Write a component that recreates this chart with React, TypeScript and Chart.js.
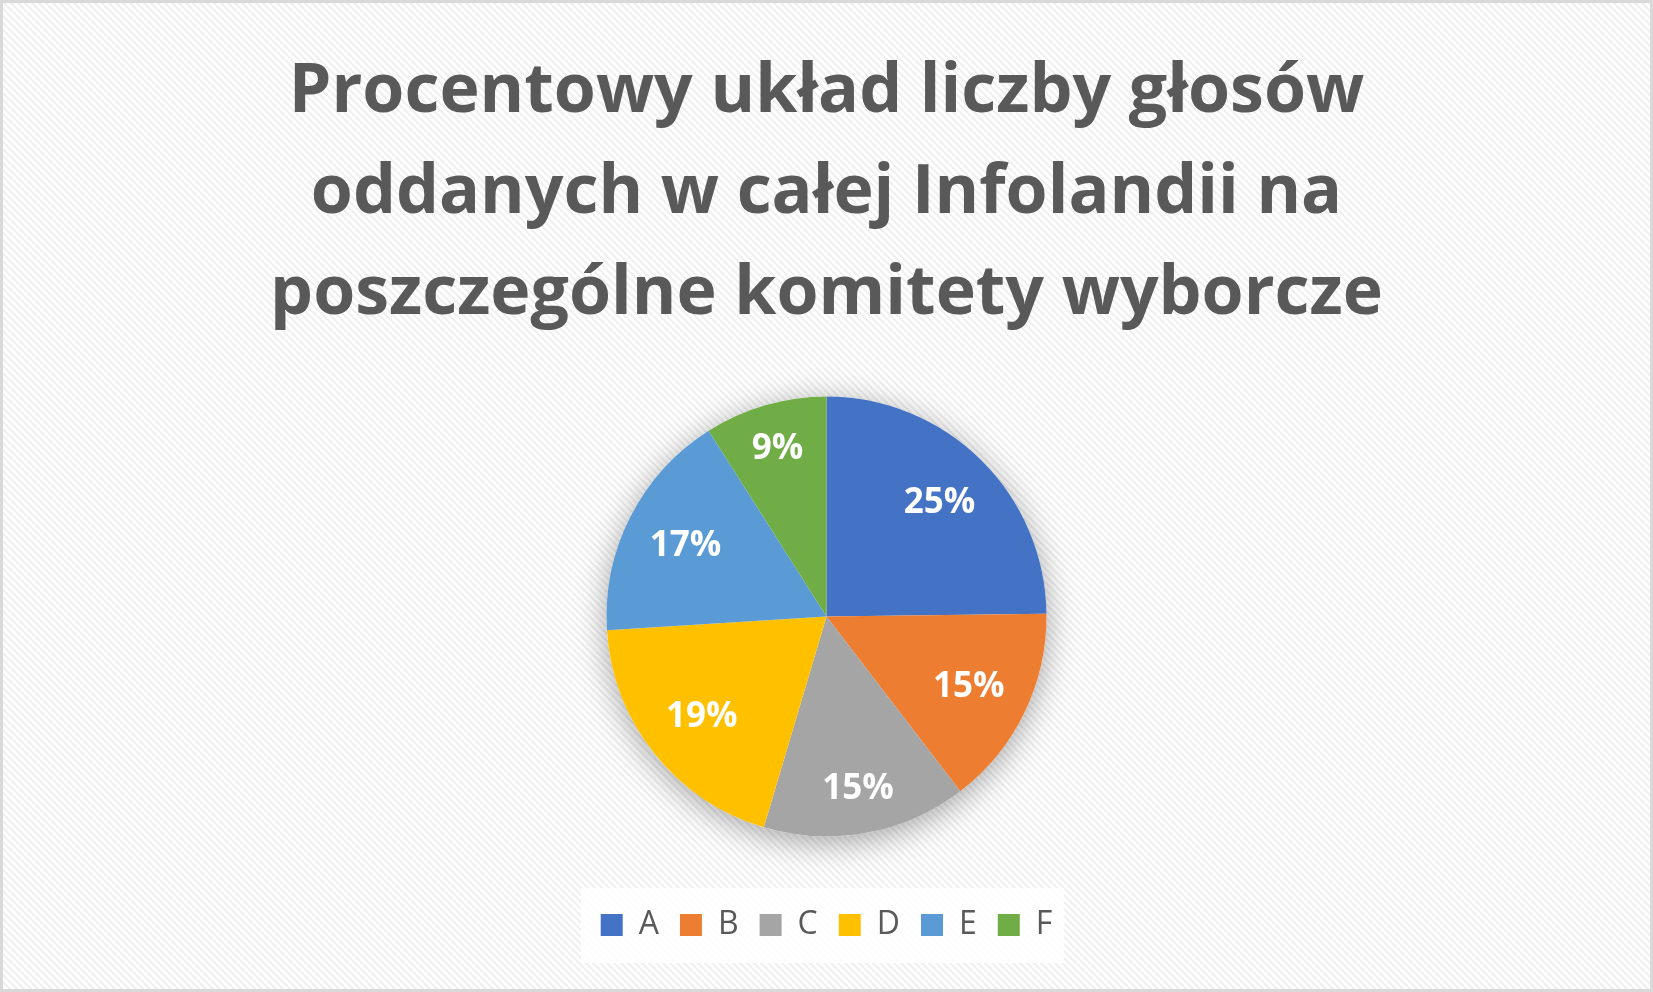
import React, { useEffect, useRef } from "react";
import { Chart, registerables } from "chart.js";

Chart.register(...registerables);

const categories = ["A", "B", "C", "D", "E", "F"];
const shares = [24.8, 14.8, 15.0, 19.4, 17.0, 9.0];
const sliceColors = ["#4472C4", "#ED7D31", "#A5A5A5", "#FFC000", "#5B9BD5", "#70AD47"];
const titleLines = [
  "Procentowy układ liczby głosów",
  "oddanych w całej Infolandii na",
  "poszczególne komitety wyborcze",
];

const FONT = "'Open Sans', Lato, sans-serif";

const backgroundPlugin = {
  id: "bgPattern",
  beforeDraw(chart: any) {
    const { ctx, width, height } = chart;
    const tile = document.createElement("canvas");
    const T = 7;
    tile.width = T;
    tile.height = T;
    const tctx = tile.getContext("2d")!;
    tctx.fillStyle = "#ffffff";
    tctx.fillRect(0, 0, T, T);
    tctx.fillStyle = "#f0f0f0";
    for (let y = 0; y < T; y++) {
      for (let x = 0; x < T; x++) {
        if (((x - y) % T + T) % T < 3) tctx.fillRect(x, y, 1, 1);
      }
    }
    ctx.save();
    ctx.fillStyle = ctx.createPattern(tile, "repeat");
    ctx.fillRect(0, 0, width, height);
    ctx.strokeStyle = "#d9d9d9";
    ctx.lineWidth = 3;
    ctx.strokeRect(1.5, 1.5, width - 3, height - 3);
    const boxes = chart.legend && chart.legend.legendHitBoxes;
    if (boxes && boxes.length) {
      let minX = Infinity, maxX = -Infinity, minY = Infinity, maxY = -Infinity;
      boxes.forEach((b: any) => {
        minX = Math.min(minX, b.left);
        maxX = Math.max(maxX, b.left + b.width);
        minY = Math.min(minY, b.top);
        maxY = Math.max(maxY, b.top + b.height);
      });
      ctx.fillStyle = "rgba(255,255,255,0.85)";
      ctx.fillRect(minX - 20, minY - 21, maxX - minX + 32, maxY - minY + 43);
    }
    ctx.restore();
  },
};

const shadowPlugin = {
  id: "pieShadow",
  beforeDatasetsDraw(chart: any) {
    const meta = chart.getDatasetMeta(0);
    const arc = meta.data[0];
    if (!arc) return;
    const { x, y, outerRadius } = arc.getProps(["x", "y", "outerRadius"], true);
    const ctx = chart.ctx;
    ctx.save();
    ctx.shadowColor = "rgba(0,0,0,0.35)";
    ctx.shadowBlur = 32;
    ctx.shadowOffsetY = 6;
    ctx.fillStyle = "#ffffff";
    ctx.beginPath();
    ctx.arc(x, y, outerRadius, 0, Math.PI * 2);
    ctx.fill();
    ctx.restore();
  },
};

const labelPlugin = {
  id: "sliceLabels",
  afterDatasetsDraw(chart: any) {
    const ctx = chart.ctx;
    const data = chart.data.datasets[0].data as number[];
    const total = data.reduce((a, b) => a + b, 0);
    const meta = chart.getDatasetMeta(0);
    ctx.save();
    ctx.font = `bold 35px ${FONT}`;
    ctx.fillStyle = "#ffffff";
    ctx.textAlign = "center";
    ctx.textBaseline = "middle";
    meta.data.forEach((el: any, i: number) => {
      const { x, y, startAngle, endAngle, outerRadius } = el.getProps(
        ["x", "y", "startAngle", "endAngle", "outerRadius"],
        true
      );
      const mid = (startAngle + endAngle) / 2;
      const text = Math.round((data[i] / total) * 100) + "%";
      const w = ctx.measureText(text).width / 2;
      const h = 13;
      const c = Math.abs(Math.cos(mid));
      const s = Math.abs(Math.sin(mid));
      const limit = outerRadius - 24;
      let lo = 0, hi = outerRadius;
      for (let k = 0; k < 30; k++) {
        const d = (lo + hi) / 2;
        const far = Math.hypot(d * c + w, d * s + h);
        if (far <= limit) lo = d; else hi = d;
      }
      ctx.fillText(text, x + Math.cos(mid) * lo, y + Math.sin(mid) * lo + 1);
    });
    ctx.restore();
  },
};

export default function App() {
  const ref = useRef<HTMLCanvasElement | null>(null);
  useEffect(() => {
    document.body.style.margin = "0";
    const chart = new Chart(ref.current!, {
      type: "pie",
      data: {
        labels: categories,
        datasets: [
          {
            data: shares,
            backgroundColor: sliceColors,
            borderWidth: 0,
            radius: 220,
          } as any,
        ],
      },
      options: {
        responsive: false,
        animation: false,
        layout: { padding: { top: 0, bottom: 41, left: 0, right: 0 } },
        plugins: {
          title: {
            display: true,
            text: titleLines,
            color: "#595959",
            font: { family: FONT, size: 68, weight: "bold", lineHeight: 101 / 68 },
            padding: { top: 42, bottom: 0 },
          },
          legend: {
            display: true,
            position: "bottom",
            labels: {
              boxWidth: 22,
              boxHeight: 22,
              padding: 21,
              color: "#595959",
              font: { family: FONT, size: 32 },
            },
          },
          tooltip: { enabled: false },
        },
      },
      plugins: [backgroundPlugin, shadowPlugin, labelPlugin],
    });
    return () => chart.destroy();
  }, []);
  return (
    <div style={{ width: 1653, height: 992 }}>
      <canvas ref={ref} width={1653} height={992} style={{ display: "block" }} />
    </div>
  );
}
